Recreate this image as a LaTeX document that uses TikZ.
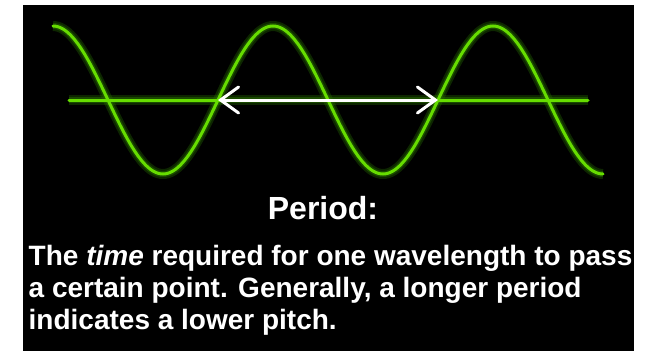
\documentclass[tikz,border=0pt]{standalone}
\usepackage{fontspec}
\setmainfont{Liberation Sans}
\usetikzlibrary{arrows.meta}
\definecolor{wavegreen}{RGB}{102,221,0}
\definecolor{glowgreen}{RGB}{40,110,0}
\tikzset{
  glow/.style={draw=glowgreen, line width=10pt, opacity=0.35},
  glowin/.style={draw=glowgreen, line width=6pt, opacity=0.5},
  wave/.style={draw=wavegreen, line width=3pt, line cap=round},
  periodarrow/.style={draw=white, line width=3pt,
    {Straight Barb[length=18pt,width=26pt,line width=3pt,line cap=round]}-{Straight Barb[length=18pt,width=26pt,line width=3pt,line cap=round]}},
  bodytext/.style={text=white, inner sep=0pt, font=\bfseries\fontsize{28}{32}\selectfont},
  titletext/.style={text=white, inner sep=0pt, font=\bfseries\fontsize{32}{36}\selectfont}
}
\begin{document}
\begin{tikzpicture}[x=1pt,y=-1pt]
\useasboundingbox (0,0) rectangle (656,351);
\fill[white] (0,0) rectangle (656,351);
\fill[black] (23,5) rectangle (634,351);
% glow
\foreach \st in {glow,glowin}{
  \draw[\st] plot[domain=53:603, samples=221, smooth] (\x, {100-74*cos((\x-53)*1.636364)});
  \draw[\st] (69,100) -- (588,100);
}
% axis line
\coordinate (axL) at (69,100);
\coordinate (axR) at (588,100);
\draw[wave] (axL) -- (axR);
% sine wave
\draw[wave] plot[domain=53:603, samples=221, smooth] (\x, {100-74*cos((\x-53)*1.636364)});
% period arrow
\coordinate (pL) at (218,100);
\coordinate (pR) at (438,100);
\draw[periodarrow] (pL) -- (pR);
% texts
\node[titletext, anchor=base] (title) at (323,219) {Period:};
\node[bodytext, anchor=base west] (line1) at (28.5,265) {The \textit{time} required for one wavelength to pass};
\node[bodytext, anchor=base west] (line2) at (28.5,297) {a certain point. Generally, a longer period};
\node[bodytext, anchor=base west] (line3) at (28.5,329) {indicates a lower pitch.};
\end{tikzpicture}
\end{document}
